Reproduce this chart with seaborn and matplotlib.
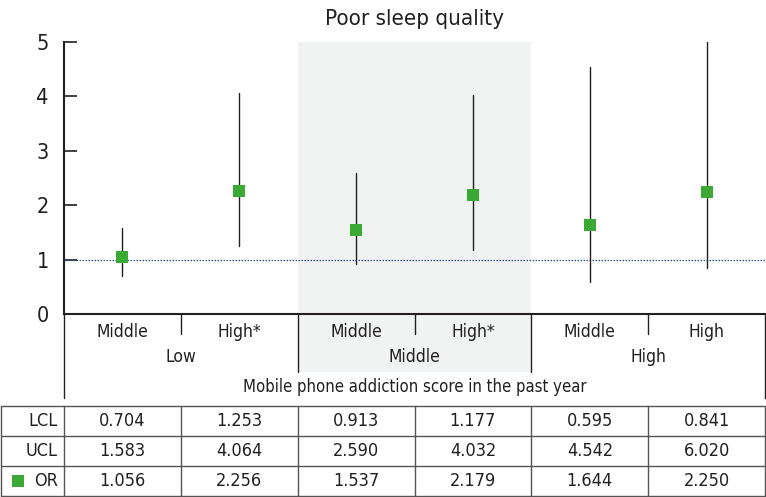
import numpy as np
import pandas as pd
import matplotlib
matplotlib.use('Agg')
import matplotlib.pyplot as plt
import seaborn as sns
from matplotlib.patches import Rectangle

# data
groups = ['Low', 'Middle', 'High']
levels = ['Middle', 'High*', 'Middle', 'High*', 'Middle', 'High']
lcl = [0.704, 1.253, 0.913, 1.177, 0.595, 0.841]
ucl = [1.583, 4.064, 2.590, 4.032, 4.542, 6.020]
odds = [1.056, 2.256, 1.537, 2.179, 1.644, 2.250]
yticks = [0, 1, 2, 3, 4, 5]
title = 'Poor sleep quality'
xtitle = 'Mobile phone addiction score in the past year'

GREEN = '#3aaa35'
INK = '#231f20'
SHADE = '#f1f2f2'

sns.set_style('white')
plt.rcParams['font.family'] = ['DejaVu Sans']
plt.rcParams['font.stretch'] = 'condensed'

# long table: one row per (category, bound) so seaborn draws point + interval
rows = []
for i in range(len(levels)):
    for v in (lcl[i], odds[i], ucl[i]):
        rows.append({'cat': i, 'value': v})
df = pd.DataFrame(rows)

W, H = 766, 497
fig = plt.figure(figsize=(W / 100, H / 100), dpi=100)

# overlay in pixel coordinates for the shading, group labels and table
ov = fig.add_axes([0, 0, 1, 1], zorder=0)
ov.set_xlim(0, W)
ov.set_ylim(H, 0)
ov.axis('off')

x0, x1, ytop, ybot = 64, 765, 42, 314
cw = (x1 - x0) / len(levels)
def px(b):
    return x0 + b * cw

ax = fig.add_axes([x0 / W, 1 - ybot / H, (x1 - x0) / W, (ybot - ytop) / H], zorder=1)
ax.patch.set_visible(False)

sns.pointplot(data=df, x='cat', y='value', estimator=np.median,
              errorbar=lambda v: (v.min(), v.max()), linestyle='none',
              marker='s', markersize=8.5, color=GREEN,
              err_kws={'color': INK, 'linewidth': 1.0, 'zorder': 2}, ax=ax)
for ln in ax.lines:
    if ln.get_marker() == 's':
        ln.set_zorder(3)
        ln.set_markeredgewidth(0)

ax.axhline(1, color='#1f4e9a', linestyle=(0, (1.2, 1.2)), linewidth=0.9, zorder=1)
ax.set_xlim(-0.5, len(levels) - 0.5)
ax.set_ylim(0, 5)
ax.set_yticks(yticks)
ax.set_xticks([])
ax.set_xlabel('')
ax.set_ylabel('')
ax.tick_params(axis='y', direction='in', length=9, width=1.2, colors=INK,
               labelsize=15.5, pad=11, left=True)
for s in ['top', 'right']:
    ax.spines[s].set_visible(False)
ax.spines['left'].set_color(INK)
ax.spines['left'].set_linewidth(1.5)
ax.spines['bottom'].set_color(INK)
ax.spines['bottom'].set_linewidth(1.5)
ax.set_title(title, fontsize=16, color=INK, pad=12)

# gray band behind the middle group, continuing down under its labels
ov.add_patch(Rectangle((px(2), ytop), 2 * cw, 372 - ytop, color=SHADE, lw=0))

lc = dict(color=INK, linewidth=1.0)
for i, lab in enumerate(levels):
    ov.text(px(i + 0.5), 332, lab, ha='center', va='center', fontsize=12.5, color=INK)
for b in (1, 3, 5):
    ov.plot([px(b), px(b)], [ybot, 334], **lc)
for b in (2, 4):
    ov.plot([px(b), px(b)], [ybot, 372], **lc)
for b in (0, 6):
    ov.plot([px(b), px(b)], [ybot, 398], **lc)
for g, lab in enumerate(groups):
    ov.text(px(2 * g + 1), 357, lab, ha='center', va='center', fontsize=12.5, color=INK)
ov.text(px(3), 387, xtitle, ha='center', va='center', fontsize=12, color=INK)

# table below the chart
row_names = ['LCL', 'UCL', 'OR']
row_vals = [lcl, ucl, odds]
edges = [406, 436, 466, 496]
tl = dict(color='#555555', linewidth=1.0)
for y in edges:
    ov.plot([0.5, x1], [y, y], **tl)
for x in [0.5] + [px(b) for b in range(len(levels) + 1)]:
    ov.plot([x, x], [edges[0], edges[-1]], **tl)
for r, (name, vals) in enumerate(zip(row_names, row_vals)):
    yc = (edges[r] + edges[r + 1]) / 2
    ov.text(x0 - 6, yc, name, ha='right', va='center', fontsize=13, color=INK)
    for i, v in enumerate(vals):
        ov.text(px(i + 0.5), yc, f'{v:.3f}', ha='center', va='center', fontsize=13, color=INK)
    if name == 'OR':
        ov.plot([18], [yc], marker='s', markersize=8, color=GREEN, markeredgewidth=0)

fig.savefig('out.png', dpi=100)
